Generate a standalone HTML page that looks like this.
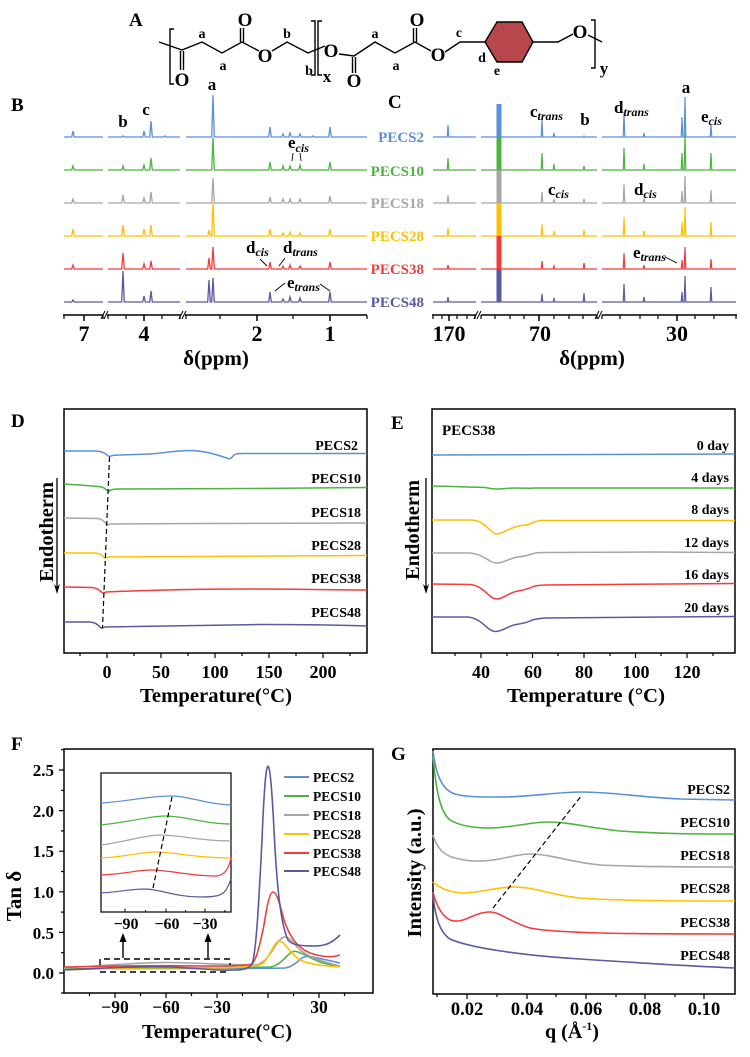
<!DOCTYPE html>
<html><head><meta charset="utf-8"><style>html,body{margin:0;padding:0;background:#fff}svg{display:block}</style></head><body>
<svg width="750" height="1057" viewBox="0 0 750 1057" xmlns="http://www.w3.org/2000/svg" font-family="'Liberation Serif', serif" font-weight="bold">
<rect width="750" height="1057" fill="#fff"/>

<!-- ===== Panel A ===== -->
<text x="129" y="26" font-size="19">A</text>
<g stroke="#000" stroke-width="1.4" fill="none">
<path d="M159,42 L182,50 L202,42 L222,53 L242,42 L259,51"/>
<path d="M180.5,51 V70 M183.5,51 V70"/>
<path d="M240.5,42 V28 M243.5,42 V28"/>
<path d="M272,51 L287,42 L308,53 L325,46"/>
<path d="M339,54 L354,56 L375,42 L395,53 L415,42 L431,51"/>
<path d="M352.5,57 V73 M355.5,57 V73"/>
<path d="M413.5,42 V28 M416.5,42 V28"/>
<path d="M445,52 L460,42 L485,42"/>
<path d="M533,42 L558,42 L573,34"/>
<path d="M588,35 L602,42"/>
<path d="M174,29 H170 V84 H174"/>
<path d="M311,21 H315 V75 H311"/>
<path d="M322,21 H318 V75 H322"/>
<path d="M591,20 H595 V68 H591"/>
</g>
<polygon points="485,42 497,22 522,22 533,42 522,62 497,62" fill="#B8474D" stroke="#000" stroke-width="1.4"/>
<g font-size="19" text-anchor="middle">
<text x="182" y="86">O</text><text x="245" y="26">O</text><text x="265" y="62">O</text>
<text x="331" y="57">O</text><text x="354" y="87">O</text><text x="417" y="26">O</text>
<text x="438" y="61">O</text><text x="580" y="38">O</text>
</g>
<g font-size="14" text-anchor="middle">
<text x="202" y="38">a</text><text x="223" y="70">a</text><text x="287" y="38">b</text><text x="309" y="75">b</text>
<text x="375" y="38">a</text><text x="396" y="70">a</text><text x="459" y="37">c</text><text x="482" y="62">d</text><text x="497" y="75">e</text>
<text x="327" y="82" font-size="17">x</text><text x="604" y="74" font-size="17">y</text>
</g>

<!-- ===== Panel B ===== -->
<text x="11" y="111" font-size="19">B</text>
<g fill="none" stroke-width="1.3">
<path stroke="#5B8FD9" d="M64,137H71.7l1.3,-6l1.3,6H103M108,137H121.7l1.3,-1l1.3,1H142.7l1.3,-6l1.3,6H149.7l1.3,-16l1.3,16H163.7l1.3,-1l1.3,1H180M186,137H211.7l1.3,-42l1.3,42H268.7l1.3,-10l1.3,10H281.7l1.3,-3l1.3,3H288.7l1.3,-4l1.3,4H298.7l1.3,-3l1.3,3H311.7l1.3,-1l1.3,1H328.7l1.3,-10l1.3,10H367"/>
<path stroke="#4CB43F" d="M64,170H71.7l1.3,-4l1.3,4H103M108,170H121.7l1.3,-4l1.3,4H142.7l1.3,-5l1.3,5H149.7l1.3,-12l1.3,12H180M186,170H211.7l1.3,-32l1.3,32H268.7l1.3,-8l1.3,8H281.7l1.3,-4l1.3,4H288.7l1.3,-4l1.3,4H298.7l1.3,-5l1.3,5H328.7l1.3,-8l1.3,8H367"/>
<path stroke="#A6A6A6" d="M64,203H71.7l1.3,-4l1.3,4H103M108,203H121.7l1.3,-8l1.3,8H142.7l1.3,-5l1.3,5H149.7l1.3,-11l1.3,11H180M186,203H211.7l1.3,-25l1.3,25H268.7l1.3,-6l1.3,6H281.7l1.3,-4l1.3,4H288.7l1.3,-4l1.3,4H298.7l1.3,-4l1.3,4H328.7l1.3,-7l1.3,7H367"/>
<path stroke="#FFC000" d="M64,236H71.7l1.3,-7l1.3,7H103M108,236H121.7l1.3,-11l1.3,11H142.7l1.3,-7l1.3,7H149.7l1.3,-11l1.3,11H180M186,236H207.7l1.3,-6l1.3,6H211.7l1.3,-33l1.3,33H268.7l1.3,-7l1.3,7H281.7l1.3,-3l1.3,3H288.7l1.3,-4l1.3,4H298.7l1.3,-3l1.3,3H328.7l1.3,-7l1.3,7H367"/>
<path stroke="#F23C3C" d="M64,269H71.7l1.3,-4l1.3,4H103M108,269H121.7l1.3,-16l1.3,16H142.7l1.3,-5l1.3,5H149.7l1.3,-8l1.3,8H180M186,269H207.7l1.3,-11l1.3,11H211.7l1.3,-22l1.3,22H268.7l1.3,-7l1.3,7H281.7l1.3,-3l1.3,3H288.7l1.3,-4l1.3,4H298.7l1.3,-3l1.3,3H328.7l1.3,-7l1.3,7H367"/>
<path stroke="#5A5A9E" d="M64,302H71.7l1.3,-2l1.3,2H103M108,302H121.7l1.3,-31l1.3,31H142.7l1.3,-6l1.3,6H149.7l1.3,-11l1.3,11H180M186,302H207.7l1.3,-22l1.3,22H211.7l1.3,-24l1.3,24H268.7l1.3,-10l1.3,10H281.7l1.3,-3l1.3,3H288.7l1.3,-5l1.3,5H298.7l1.3,-4l1.3,4H328.7l1.3,-10l1.3,10H367"/>
</g>
<g stroke="#000" stroke-width="1.5" fill="none">
<path d="M63,315H103M107,315H181M185,315H367"/>
<path d="M101,319L105,311M104,319L108,311M179,319L183,311M182,319L186,311" stroke-width="1"/>
<path d="M84,315v6M144,315v6M257,315v6M330,315v6"/>
<path d="M64,315v4M103,315v4M108,315v4M126,315v4M162,315v4M180,315v4M186,315v4M220,315v4M293,315v4M367,315v4" stroke-width="1.2"/>
</g>
<g font-size="22" text-anchor="middle">
<text x="84" y="341">7</text><text x="144" y="341">4</text><text x="257" y="341">2</text><text x="330" y="341">1</text>
</g>
<text x="216" y="365" font-size="21" text-anchor="middle">δ(ppm)</text>
<g font-size="17">
<text x="123" y="127" text-anchor="middle">b</text>
<text x="146" y="115" text-anchor="middle">c</text>
<text x="212" y="90" text-anchor="middle">a</text>
<text x="288" y="148">e<tspan font-size="12" font-style="italic" dy="4">cis</tspan></text>
<text x="246" y="253">d<tspan font-size="12" font-style="italic" dy="3">cis</tspan></text>
<text x="283" y="253">d<tspan font-size="12" font-style="italic" dy="3">trans</tspan></text>
<text x="287" y="288">e<tspan font-size="12" font-style="italic" dy="3">trans</tspan></text>
</g>
<g stroke="#000" stroke-width="0.9" fill="none">
<path d="M293,153L292,161M300,153L301,161M260,259L267,266M285,258L279,266M285,283L275,291M320,284L330,291"/>
</g>

<!-- series labels -->
<g font-size="15" text-anchor="end">
<text x="424" y="142" fill="#5B8FD9">PECS2</text>
<text x="424" y="176" fill="#4CB43F">PECS10</text>
<text x="424" y="208" fill="#A6A6A6">PECS18</text>
<text x="424" y="241" fill="#FFC000">PECS28</text>
<text x="424" y="274" fill="#F23C3C">PECS38</text>
<text x="424" y="307" fill="#5A5A9E">PECS48</text>
</g>

<!-- ===== Panel C ===== -->
<text x="388" y="108" font-size="19">C</text>
<g fill="none" stroke-width="1.2">
<path stroke="#5B8FD9" d="M433,137H447.2l0.8,-12l0.8,12H476M481,137H541.2l0.8,-17l0.8,17H553.2l0.8,-4l0.8,4H583.2l0.8,-1l0.8,1H597M602,137H623.2l0.8,-24l0.8,24H643.2l0.8,-4l0.8,4H681.2l0.8,-20l0.8,20H684.2l0.8,-40l0.8,40H710.2l0.8,-12l0.8,12H736"/>
<path stroke="#4CB43F" d="M433,170H447.2l0.8,-12l0.8,12H476M481,170H541.2l0.8,-17l0.8,17H553.2l0.8,-6l0.8,6H583.2l0.8,-4l0.8,4H597M602,170H623.2l0.8,-22l0.8,22H643.2l0.8,-6l0.8,6H681.2l0.8,-17l0.8,17H684.2l0.8,-36l0.8,36H710.2l0.8,-17l0.8,17H736"/>
<path stroke="#A6A6A6" d="M433,203H447.2l0.8,-8l0.8,8H476M481,203H541.2l0.8,-11l0.8,11H553.2l0.8,-4l0.8,4H583.2l0.8,-4l0.8,4H597M602,203H623.2l0.8,-19l0.8,19H643.2l0.8,-5l0.8,5H681.2l0.8,-12l0.8,12H684.2l0.8,-27l0.8,27H710.2l0.8,-13l0.8,13H736"/>
<path stroke="#FFC000" d="M433,236H447.2l0.8,-8l0.8,8H476M481,236H541.2l0.8,-12l0.8,12H553.2l0.8,-5l0.8,5H583.2l0.8,-6l0.8,6H597M602,236H623.2l0.8,-19l0.8,19H643.2l0.8,-5l0.8,5H681.2l0.8,-14l0.8,14H684.2l0.8,-29l0.8,29H710.2l0.8,-14l0.8,14H736"/>
<path stroke="#F23C3C" d="M433,269H447.2l0.8,-4l0.8,4H476M481,269H541.2l0.8,-8l0.8,8H553.2l0.8,-3l0.8,3H583.2l0.8,-6l0.8,6H597M602,269H623.2l0.8,-16l0.8,16H643.2l0.8,-4l0.8,4H681.2l0.8,-9l0.8,9H684.2l0.8,-22l0.8,22H710.2l0.8,-10l0.8,10H736"/>
<path stroke="#5A5A9E" d="M433,302H447.2l0.8,-5l0.8,5H476M481,302H541.2l0.8,-8l0.8,8H553.2l0.8,-4l0.8,4H583.2l0.8,-9l0.8,9H597M602,302H623.2l0.8,-18l0.8,18H643.2l0.8,-5l0.8,5H681.2l0.8,-10l0.8,10H684.2l0.8,-26l0.8,26H710.2l0.8,-15l0.8,15H736"/>
</g>
<rect x="496.5" y="104" width="5" height="33" fill="#5B8FD9"/>
<rect x="496.5" y="137" width="5" height="33" fill="#4CB43F"/>
<rect x="496.5" y="170" width="5" height="33" fill="#A6A6A6"/>
<rect x="496.5" y="203" width="5" height="33" fill="#FFC000"/>
<rect x="496.5" y="236" width="5" height="33" fill="#F23C3C"/>
<rect x="496.5" y="269" width="5" height="33" fill="#5A5A9E"/>
<g stroke="#000" stroke-width="1.5" fill="none">
<path d="M432,315H476M481,315H597M602,315H737"/>
<path d="M474,319L478,311M477,319L481,311M595,319L599,311M598,319L602,311" stroke-width="1"/>
<path d="M449,315v6M539,315v6M677,315v6"/>
<path d="M433,315v4M442,315v4M457,315v4M467,315v4M475,315v4M481,315v4M495,315v4M510,315v4M524,315v4M554,315v4M569,315v4M583,315v4M597,315v4M602,315v4M620,315v4M640,315v4M658,315v4M695,315v4M714,315v4M736,315v4" stroke-width="1.2"/>
</g>
<g font-size="22" text-anchor="middle">
<text x="449" y="341">170</text><text x="540" y="341">70</text><text x="677" y="341">30</text>
</g>
<text x="592" y="365" font-size="21" text-anchor="middle">δ(ppm)</text>
<g font-size="17">
<text x="530" y="117">c<tspan font-size="12" font-style="italic" dy="3">trans</tspan></text>
<text x="585" y="125" text-anchor="middle">b</text>
<text x="614" y="113">d<tspan font-size="12" font-style="italic" dy="3">trans</tspan></text>
<text x="686" y="93" text-anchor="middle">a</text>
<text x="701" y="122">e<tspan font-size="12" font-style="italic" dy="3">cis</tspan></text>
<text x="548" y="195">c<tspan font-size="12" font-style="italic" dy="3">cis</tspan></text>
<text x="634" y="195">d<tspan font-size="12" font-style="italic" dy="3">cis</tspan></text>
<text x="633" y="258">e<tspan font-size="12" font-style="italic" dy="3">trans</tspan></text>
</g>
<path d="M665,257L677,263" stroke="#000" stroke-width="0.9"/>

<!-- ===== Panel D ===== -->
<text x="11" y="427" font-size="19">D</text>
<rect x="64" y="409" width="303" height="244" fill="none" stroke="#000" stroke-width="1.5"/>
<g stroke="#000" stroke-width="1.2">
<path d="M107,653v5M161,653v5M215,653v5M269,653v5M323,653v5"/>
<path d="M80,653v3M134,653v3M188,653v3M242,653v3M296,653v3M350,653v3"/>
</g>
<g font-size="18" text-anchor="middle">
<text x="107" y="678">0</text><text x="161" y="678">50</text><text x="215" y="678">100</text><text x="269" y="678">150</text><text x="323" y="678">200</text>
</g>
<text x="216" y="702" font-size="19.5" text-anchor="middle" textLength="152" lengthAdjust="spacingAndGlyphs">Temperature(°C)</text>
<text transform="translate(53,532) rotate(-90)" font-size="19.5" text-anchor="middle" textLength="100" lengthAdjust="spacingAndGlyphs">Endotherm</text>
<path d="M57,478V588" stroke="#000" stroke-width="1.3"/>
<polygon points="54,584 57,594 60,584 57,587" fill="#000"/>
<g fill="none" stroke-width="1.5">
<path stroke="#5B8FD9" d="M64,451 L95,451 C100,451 103,452 106,454 C108,456 109,457 111,456 C113,455 115,455 120,455 L150,454 C165,453 175,450.5 190,450.5 C205,451 215,454 228,458.5 C231,459.5 232,457 234,455 C236,453.5 238,453.5 245,453.5 L367,453.5"/>
<path stroke="#4CB43F" d="M64,484 C80,485 95,486 102,487 C105,488 107,491 109,491 C111,490 112,489 120,489 L250,488.5 L367,487.5"/>
<path stroke="#A6A6A6" d="M64,518 L98,518.5 C102,519 104,521 106,524 C107,525 108,525 110,524 L200,523.5 L367,523"/>
<path stroke="#FFC000" d="M64,553 L95,553 C100,553.5 102,555 104,557.5 C105,558.5 106,558 108,557 L200,556.5 L367,555.5"/>
<path stroke="#F23C3C" d="M64,587 L92,587.5 C97,588 99,590 102,592.5 C103,593.5 104,593 106,592 C140,590.5 200,589 250,589 C300,589 340,590 367,590"/>
<path stroke="#5A5A9E" d="M64,622 L90,622 C95,622.5 97,624 100,627 C101,628.5 102,628.5 105,627 C140,626 200,625 260,624.5 C300,624.5 340,625 367,626"/>
</g>
<path d="M109.5,457 L102.5,628" stroke="#000" stroke-width="1.2" stroke-dasharray="5,3" fill="none"/>
<g font-size="14" text-anchor="end">
<text x="358" y="450">PECS2</text><text x="361" y="483">PECS10</text><text x="361" y="517">PECS18</text>
<text x="361" y="550">PECS28</text><text x="361" y="583">PECS38</text><text x="361" y="617">PECS48</text>
</g>

<!-- ===== Panel E ===== -->
<text x="391" y="429" font-size="19">E</text>
<rect x="432" y="409" width="303" height="244" fill="none" stroke="#000" stroke-width="1.5"/>
<g stroke="#000" stroke-width="1.2">
<path d="M481,653v5M532.5,653v5M584,653v5M635.5,653v5M687,653v5"/>
<path d="M455,653v3M507,653v3M558,653v3M610,653v3M661,653v3M713,653v3"/>
</g>
<g font-size="18" text-anchor="middle">
<text x="481" y="678">40</text><text x="533" y="678">60</text><text x="584" y="678">80</text><text x="636" y="678">100</text><text x="687" y="678">120</text>
</g>
<text x="586" y="702" font-size="19.5" text-anchor="middle" textLength="158" lengthAdjust="spacingAndGlyphs">Temperature (°C)</text>
<text transform="translate(419,530) rotate(-90)" font-size="19.5" text-anchor="middle" textLength="100" lengthAdjust="spacingAndGlyphs">Endotherm</text>
<path d="M426,478V588" stroke="#000" stroke-width="1.3"/>
<polygon points="423,584 426,594 429,584 426,587" fill="#000"/>
<text x="442" y="435" font-size="15">PECS38</text>
<g fill="none" stroke-width="1.5">
<path stroke="#5B8FD9" d="M432,455 L735,454"/>
<path stroke="#4CB43F" d="M432,486 C450,486.5 470,487 485,487.5 C490,488.5 494,489 498,489 C503,489 507,488 515,488 C525,488 530,488.5 535,488 L735,488"/>
<path stroke="#FFC000" d="M432,520 L472,520 C480,520.5 485,525 490,530 C493,533 495,534 497,534 C502,534 508,529 515,527 C520,525.5 524,525.5 528,524.5 C532,523 535,521 541,520.5 L735,520.5"/>
<path stroke="#A6A6A6" d="M432,553 L470,553 C480,554 485,558 490,561 C493,562.5 495,563 497,563 C503,563 510,558 518,557 C523,556.5 526,556 530,554.5 C534,553 537,552.5 545,552.5 L650,552 L735,552.5"/>
<path stroke="#F23C3C" d="M432,584 L470,584.5 C480,585.5 485,592 490,596 C493,598.5 495,599 497,599 C503,599 510,592 518,591 C523,590 527,589.5 531,587.5 C535,585.5 538,585.5 545,585 L735,583.5"/>
<path stroke="#5A5A9E" d="M432,617 L468,617 C478,618 484,625 489,629 C492,631 494,631.5 496,631.5 C502,631.5 508,626 516,624.5 C522,623.5 526,623 530,621 C534,619 538,618.5 545,618 L735,616.5"/>
</g>
<g font-size="14" text-anchor="end">
<text x="729" y="450">0 day</text><text x="729" y="482">4 days</text><text x="729" y="514">8 days</text>
<text x="729" y="547">12 days</text><text x="729" y="579">16 days</text><text x="729" y="612">20 days</text>
</g>

<!-- ===== Panel F ===== -->
<text x="11" y="750" font-size="19">F</text>
<rect x="64" y="749" width="309" height="244" fill="none" stroke="#000" stroke-width="1.5"/>
<g stroke="#000" stroke-width="1.2">
<path d="M64,973h-5M64,932.4h-5M64,891.8h-5M64,851.2h-5M64,810.6h-5M64,770h-5"/>
<path d="M64,993h-3M64,952.7h-3M64,912.1h-3M64,871.5h-3M64,830.9h-3M64,790.3h-3M64,749.7h-3"/>
<path d="M115,993v5M166,993v5M217,993v5M268,993v5M319,993v5"/>
<path d="M89.5,993v3M140.5,993v3M191.5,993v3M242.5,993v3M293.5,993v3M344.5,993v3"/>
</g>
<g font-size="17" text-anchor="end">
<text x="54" y="979">0.0</text><text x="54" y="939">0.5</text><text x="54" y="898">1.0</text>
<text x="54" y="857">1.5</text><text x="54" y="817">2.0</text><text x="54" y="776">2.5</text>
</g>
<g font-size="17.5" text-anchor="middle">
<text x="115" y="1013">−90</text><text x="166" y="1013">−60</text><text x="217" y="1013">−30</text><text x="319" y="1013">30</text>
</g>
<text x="217" y="1038" font-size="19.5" text-anchor="middle" textLength="150" lengthAdjust="spacingAndGlyphs">Temperature(°C)</text>
<text transform="translate(21,896) rotate(-90)" font-size="21" text-anchor="middle">Tan δ</text>
<g fill="none" stroke-width="1.6">
<path stroke="#5B8FD9" d="M64,969 C150,968 250,969 285,968 C292,967 297,962 302,958 C305,956 308,956 313,957 C322,959 332,961 340,963"/>
<path stroke="#4CB43F" d="M64,969 C150,968 230,968 270,967 C278,966 283,960 288,955 C291,952 293,951 296,951.5 C302,952.5 310,958 320,962 C328,964.5 335,966 340,966.5"/>
<path stroke="#A6A6A6" d="M64,968 C110,965 150,962 170,962.5 C200,963 230,965 255,965 C263,964 268,958 274,948 C279,940 282,937 285,937 C289,937 293,942 298,948 C305,955 318,961 340,966"/>
<path stroke="#FFC000" d="M64,970 C120,968 160,967 200,968 C235,968 255,967 262,964 C267,961 272,948 276,943 C278,941 280,941 282,942 C287,946 292,955 300,960 C312,965 325,966 340,967"/>
<path stroke="#F23C3C" d="M64,967 C120,966 160,965 200,966 C230,966 245,966 252,964 C256,961 260,945 264,925 C267,905 270,892 273,892 C277,892 280,905 284,920 C290,938 298,948 310,953 C322,957 332,958 340,955"/>
<path stroke="#5A5A9E" d="M64,970 C100,968 140,966 170,967 C200,968 215,971 235,970 C245,970 249,968 252,964 C256,955 259,900 262,840 C264,790 266,766 268,766 C270,766 272,790 274,830 C277,890 281,925 288,940 C292,945 300,946 315,946 C325,946 332,943 340,935"/>
</g>
<g stroke="#000" stroke-width="1.4" fill="none" stroke-dasharray="6,4">
<path d="M100,965 V959 H230 V965"/>
<path d="M100,972 H230"/>
</g>
<g stroke="#000" stroke-width="1.4">
<path d="M123,958V940M208,958V940"/>
</g>
<polygon points="119.5,942 123,933 126.5,942" fill="#000"/>
<polygon points="204.5,942 208,933 211.5,942" fill="#000"/>
<!-- inset -->
<rect x="101" y="773" width="130" height="139" fill="#fff" stroke="#000" stroke-width="1.2"/>
<g stroke="#000" stroke-width="1">
<path d="M125,912v-3.5M166,912v-3.5M205,912v-3.5M145.5,912v-2M185.5,912v-2M225,912v-2"/>
</g>
<g fill="none" stroke-width="1.2">
<path stroke="#5B8FD9" d="M101,803 C130,801 150,796 170,796 C190,796 205,804 231,805"/>
<path stroke="#4CB43F" d="M101,825 C130,822 150,816 165,816 C185,816 205,824 231,824"/>
<path stroke="#A6A6A6" d="M101,845 C125,842 145,835 160,835 C180,835 200,841 231,841"/>
<path stroke="#FFC000" d="M101,858 C125,857 140,852 155,852 C175,852 195,858 231,858"/>
<path stroke="#F23C3C" d="M101,875 C125,874 138,870 150,870 C170,870 190,876 215,876 C225,876 229,868 231,858"/>
<path stroke="#5A5A9E" d="M101,893 C120,892 130,889 145,889 C160,889 175,897 200,897 C215,897 222,896 226,890 C229,885 230,882 231,879"/>
</g>
<path d="M172,797 L153,888" stroke="#000" stroke-width="1.2" stroke-dasharray="5,3"/>
<g font-size="16" text-anchor="middle">
<text x="126" y="929">−90</text><text x="167" y="929">−60</text><text x="205" y="929">−30</text>
</g>
<!-- legend -->
<g stroke-width="2">
<path stroke="#5B8FD9" d="M284,777H309"/><path stroke="#4CB43F" d="M284,796H309"/><path stroke="#A6A6A6" d="M284,815H309"/>
<path stroke="#FFC000" d="M284,834H309"/><path stroke="#F23C3C" d="M284,853H309"/><path stroke="#5A5A9E" d="M284,871H309"/>
</g>
<g font-size="13.5">
<text x="313" y="782">PECS2</text><text x="313" y="801">PECS10</text><text x="313" y="820">PECS18</text>
<text x="313" y="839">PECS28</text><text x="313" y="858">PECS38</text><text x="313" y="876">PECS48</text>
</g>

<!-- ===== Panel G ===== -->
<text x="391" y="760" font-size="19">G</text>
<rect x="433" y="749" width="302" height="245" fill="none" stroke="#000" stroke-width="1.5"/>
<g stroke="#000" stroke-width="1.2">
<path d="M467,994v5M527,994v5M586,994v5M645,994v5M704,994v5"/>
<path d="M437,994v3M497,994v3M556,994v3M616,994v3M675,994v3"/>
</g>
<g font-size="18.5" text-anchor="middle">
<text x="467" y="1015">0.02</text><text x="527" y="1015">0.04</text><text x="586" y="1015">0.06</text><text x="645" y="1015">0.08</text><text x="704" y="1015">0.10</text>
</g>
<text x="572" y="1038" font-size="20" text-anchor="middle">q (Å<tspan font-size="12" dy="-8">-1</tspan><tspan dy="8">)</tspan></text>
<text transform="translate(421,873) rotate(-90)" font-size="20" text-anchor="middle" textLength="129" lengthAdjust="spacingAndGlyphs">Intensity (a.u.)</text>
<g fill="none" stroke-width="1.6">
<path stroke="#5B8FD9" d="M433,751 C436,775 442,790 455,794 C465,797 480,797 500,797 C530,797 555,792 582,792 C610,792 640,797 680,799 L735,800"/>
<path stroke="#4CB43F" d="M433,756 C436,790 440,812 450,820 C460,826 475,828 490,828 C510,828 530,822 548,822 C570,822 590,828 620,831 C660,834 700,834 735,834"/>
<path stroke="#A6A6A6" d="M433,835 C437,848 443,855 455,858 C463,860 468,861 480,861 C500,861 515,854 530,854 C550,854 570,862 600,865 C640,867 690,867 735,867"/>
<path stroke="#FFC000" d="M433,882 C440,888 448,892 462,893 C480,893 495,887 515,887 C535,887 550,895 580,898 C620,901 680,901 735,901"/>
<path stroke="#F23C3C" d="M433,892 C436,905 442,916 450,920 C455,922 460,921 466,919 C475,915 482,912 490,912 C500,912 510,922 530,928 C560,934 650,934 735,934"/>
<path stroke="#5A5A9E" d="M433,895 C435,915 439,932 450,939 C470,948 520,955 580,959 C640,963 690,966 735,968"/>
</g>
<path d="M493,908 L582,795" stroke="#000" stroke-width="1.2" stroke-dasharray="5,3"/>
<g font-size="14" text-anchor="end">
<text x="730" y="794">PECS2</text><text x="730" y="827">PECS10</text><text x="730" y="860">PECS18</text>
<text x="730" y="893">PECS28</text><text x="730" y="927">PECS38</text><text x="730" y="960">PECS48</text>
</g>
</svg>
</body></html>
